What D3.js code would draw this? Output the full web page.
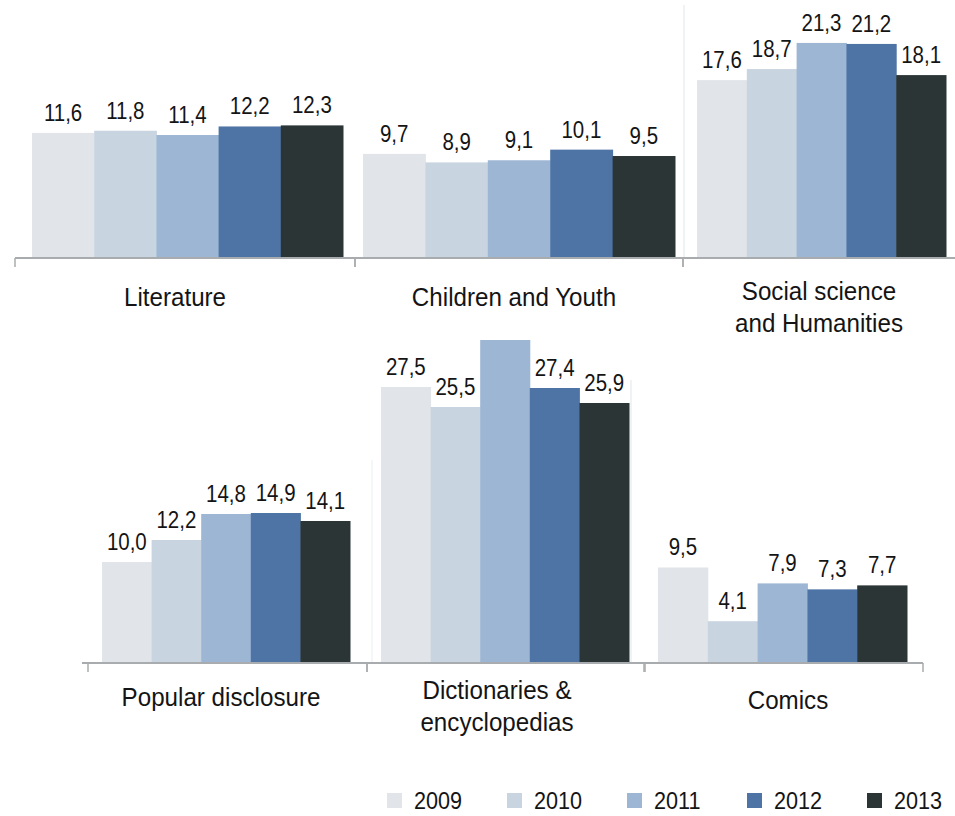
<!DOCTYPE html>
<html>
<head>
<meta charset="utf-8">
<script src="https://cdn.jsdelivr.net/npm/d3@7"></script>
<style>
  html, body { margin: 0; padding: 0; background: #ffffff; }
  svg { display: block; }
  text { font-family: "Liberation Sans", Arial, Helvetica, sans-serif; fill: #141414; }
</style>
</head>
<body>
<svg id="chart" width="955" height="816"></svg>
<script>
// ---- data ----
const categories = ["Literature", "Children and Youth", "Social science\nand Humanities",
                    "Popular disclosure", "Dictionaries &\nencyclopedias", "Comics"];
const years = ["2009", "2010", "2011", "2012", "2013"];
const values2009 = [11.6, 9.7, 17.6, 10.0, 27.5, 9.5];
const values2010 = [11.8, 8.9, 18.7, 12.2, 25.5, 4.1];
const values2011 = [11.4, 9.1, 21.3, 14.8, 32.2, 7.9];
const values2012 = [12.2, 10.1, 21.2, 14.9, 27.4, 7.3];
const values2013 = [12.3, 9.5, 18.1, 14.1, 25.9, 7.7];
const seriesValues = [values2009, values2010, values2011, values2012, values2013];
// value labels not printed in the original (category index, year index)
const unlabeled = [[4, 2]];
const colors = ["#e1e4e9", "#c9d4e1", "#9cb6d4", "#4e74a6", "#2b3536"];

// ---- layout (per panel) ----
const panels = [
  { x0: 32,  x1: 343, base: 257, ppu: 10.7,  axis: [15, 355],  ticks: [15, 355], labelX: 175, labelY: [306] },
  { x0: 363, x1: 675, base: 257, ppu: 10.63, axis: [355, 683], ticks: [355, 683], labelX: 514, labelY: [306] },
  { x0: 697, x1: 946, base: 257, ppu: 10.05, axis: [683, 955], ticks: [683], labelX: 819, labelY: [300, 332] },
  { x0: 102, x1: 350, base: 662, ppu: 10.0,  axis: [82, 367],  ticks: [88, 367], labelX: 221, labelY: [706] },
  { x0: 381, x1: 629, base: 662, ppu: 10.0,  axis: [360, 645], ticks: [367, 645], labelX: 497, labelY: [699, 731] },
  { x0: 658, x1: 907, base: 662, ppu: 9.95,  axis: [630, 923], ticks: [644, 923], labelX: 788, labelY: [709] }
];

const svg = d3.select("#chart");

function condensedText(parent, x, y, str, size, sx, anchor) {
  return parent.append("text")
    .attr("transform", `translate(${x},${y}) scale(${sx},1)`)
    .attr("text-anchor", anchor || "middle")
    .style("font-size", size + "px")
    .text(str);
}

// faint panel separators
svg.append("line").attr("x1", 684).attr("x2", 684).attr("y1", 5).attr("y2", 257)
  .attr("stroke", "#eaeff2").attr("stroke-width", 1.5);
svg.append("line").attr("x1", 631).attr("x2", 631).attr("y1", 380).attr("y2", 662)
  .attr("stroke", "#eaeff2").attr("stroke-width", 1.5);
svg.append("line").attr("x1", 372).attr("x2", 372).attr("y1", 460).attr("y2", 662)
  .attr("stroke", "#f0f3f5").attr("stroke-width", 1.5);

categories.forEach((cat, ci) => {
  const p = panels[ci];
  const g = svg.append("g");
  const x = d3.scaleBand().domain(years).range([p.x0, p.x1]).padding(0);
  const y = d3.scaleLinear().domain([0, 35]).range([p.base, p.base - 35 * p.ppu]);

  const rows = years.map((yr, yi) => ({
    year: yr, yi: yi, value: seriesValues[yi][ci],
    labeled: !unlabeled.some(u => u[0] === ci && u[1] === yi)
  }));

  g.selectAll("rect.bar").data(rows).join("rect")
    .attr("class", "bar")
    .attr("x", d => x(d.year))
    .attr("width", x.bandwidth() + 0.5)
    .attr("y", d => y(d.value))
    .attr("height", d => y(0) - y(d.value))
    .attr("fill", d => colors[d.yi]);

  rows.filter(d => d.labeled).forEach(d => {
    condensedText(g, x(d.year) + x.bandwidth() / 2, y(d.value) - 12,
      d3.format(".1f")(d.value).replace(".", ","), 23, 0.89);
  });

  // axis baseline
  g.append("line")
    .attr("x1", p.axis[0]).attr("x2", p.axis[1])
    .attr("y1", p.base + 1).attr("y2", p.base + 1)
    .attr("stroke", "#a9acae").attr("stroke-width", 2);
  p.ticks.forEach(tx => {
    g.append("line")
      .attr("x1", tx).attr("x2", tx)
      .attr("y1", p.base + 1).attr("y2", p.base + 10)
      .attr("stroke", "#a9acae").attr("stroke-width", 1.5);
  });

  // category label
  cat.split("\n").forEach((ln, li) => {
    condensedText(g, p.labelX, p.labelY[li], ln, 26, 0.93);
  });
});

// legend
const legend = svg.append("g");
const lx = d3.scalePoint().domain(years).range([387, 867]);
years.forEach((yr, i) => {
  legend.append("rect")
    .attr("x", lx(yr)).attr("y", 793)
    .attr("width", 15).attr("height", 15)
    .attr("fill", colors[i]);
  condensedText(legend, lx(yr) + 27, 809, yr, 23, 0.94, "start");
});
</script>
</body>
</html>
